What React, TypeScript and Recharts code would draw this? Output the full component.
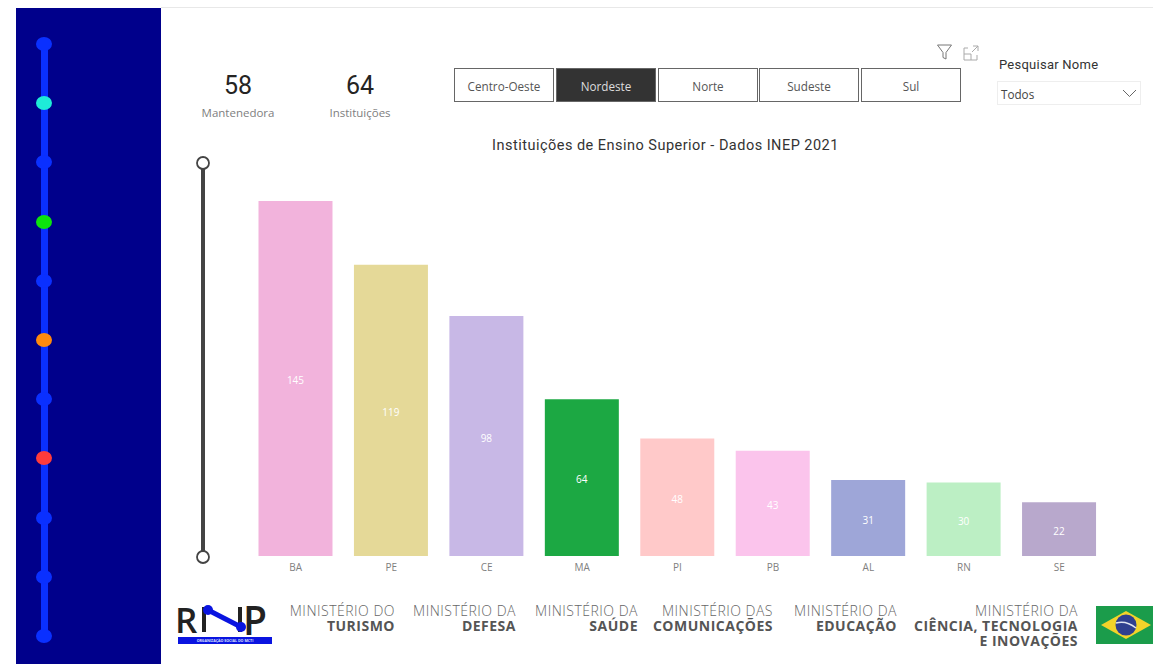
import { BarChart, Bar, XAxis, YAxis, Cell, LabelList } from 'recharts';

const states = ['BA', 'PE', 'CE', 'MA', 'PI', 'PB', 'AL', 'RN', 'SE'];
const counts = [145, 119, 98, 64, 48, 43, 31, 30, 22];
const barColors = ['#F2B3DC', '#E5D998', '#C8B8E6', '#1CA843', '#FFC9C9', '#FBC4EC', '#9EA6D8', '#BCEFC4', '#B8A8CC'];
const regions = ['Centro-Oeste', 'Nordeste', 'Norte', 'Sudeste', 'Sul'];
const regionLefts = [454, 556, 658, 759, 861];
const navDots = ['#0A30FF', '#1EEBD8', '#0A30FF', '#0CE40C', '#0A30FF', '#FF8A0C', '#0A30FF', '#FF3B3B', '#0A30FF', '#0A30FF', '#0A30FF'];
const ministries = [
  { right: 395, top: 'MINISTÉRIO DO', bold: ['TURISMO'] },
  { right: 516, top: 'MINISTÉRIO DA', bold: ['DEFESA'] },
  { right: 638, top: 'MINISTÉRIO DA', bold: ['SAÚDE'] },
  { right: 773, top: 'MINISTÉRIO DAS', bold: ['COMUNICAÇÕES'] },
  { right: 897, top: 'MINISTÉRIO DA', bold: ['EDUCAÇÃO'] },
  { right: 1078, top: 'MINISTÉRIO DA', bold: ['CIÊNCIA, TECNOLOGIA', 'E INOVAÇÕES'] },
];

const chartData = states.map((state, i) => ({ state, count: counts[i] }));

const din = 'Roboto, sans-serif';
const sans = '"Open Sans", sans-serif';

function Txt({ x, y, size, color, font = sans, weight = 400, anchor = 'middle', spacing = 0, children }: any) {
  const tx = anchor === 'middle' ? 'translate(-50%,-50%)' : anchor === 'end' ? 'translate(-100%,-50%)' : 'translateY(-50%)';
  return (
    <div
      style={{
        position: 'absolute',
        left: x,
        top: y,
        transform: tx,
        fontSize: size,
        color,
        fontFamily: font,
        fontWeight: weight,
        letterSpacing: spacing,
        whiteSpace: 'nowrap',
        lineHeight: 1,
      }}
    >
      {children}
    </div>
  );
}

function Sidebar() {
  return (
    <div style={{ position: 'absolute', left: 16, top: 8, width: 145, height: 656, background: '#00008B' }}>
      <div style={{ position: 'absolute', left: 24.5, top: 36, width: 7, height: 592, background: '#0A30FF' }} />
      {navDots.map((c, i) => (
        <div
          key={i}
          style={{
            position: 'absolute',
            left: 20,
            top: 36 + i * 59.2 - 7,
            width: 16,
            height: 14,
            borderRadius: '50%',
            background: c,
          }}
        />
      ))}
    </div>
  );
}

function Icons() {
  return (
    <svg style={{ position: 'absolute', left: 930, top: 40 }} width={55} height={22}>
      <path d="M7.5 5 H21.5 L16 12.5 V19 L13 17.5 V12.5 Z" fill="none" stroke="#777" strokeWidth={1} />
      <path d="M34 8 H38 M34 8 V20 H47 V15 M34 14 H41 V20 M43 6 H48 V11 M48 6 L42 12" fill="none" stroke="#aaa" strokeWidth={1} />
    </svg>
  );
}

function RnpLogo() {
  return (
    <div>
      <Txt x={175} y={619} size={35} color="#222" weight={600} anchor="start">R</Txt>
      <Txt x={243} y={619} size={39} color="#222" weight={600} anchor="start">P</Txt>
      <svg style={{ position: 'absolute', left: 195, top: 600 }} width={55} height={40}>
        <rect x={7} y={7} width={4} height={25} fill="#222" />
        <rect x={43} y={7} width={4} height={25} fill="#222" />
        <path d="M13 10 L46 27" stroke="#0A14E0" strokeWidth={5} />
        <circle cx={13} cy={10} r={5} fill="#0A14E0" />
        <circle cx={46} cy={27} r={5} fill="#0A14E0" />
      </svg>
      <div style={{ position: 'absolute', left: 178, top: 637, width: 94, height: 7, background: '#0A14E0' }} />
      <Txt x={225} y={640.5} size={3.6} color="#dfe3ff" weight={700}>ORGANIZAÇÃO SOCIAL DO MCTI</Txt>
    </div>
  );
}

function Flag() {
  return (
    <svg style={{ position: 'absolute', left: 1096, top: 606 }} width={57} height={38}>
      <rect width={57} height={38} fill="#1B9C4B" />
      <path d="M5 19 L30 5 L55 19 L30 33 Z" fill="#F2D32A" />
      <circle cx={30} cy={19} r={10.5} fill="#2F3F8F" />
      <path d="M20 17 Q30 14 40 22" stroke="#dfe3f0" strokeWidth={1.5} fill="none" />
    </svg>
  );
}

export default function App() {
  return (
    <div style={{ position: 'absolute', left: 0, top: 0, width: 1153, height: 664, background: '#fff', overflow: 'hidden' }}>
      <div style={{ position: 'absolute', left: 161, top: 7, width: 992, height: 1, background: '#e8e8e8' }} />
      <Sidebar />

      <Txt x={238} y={85} size={25} color="#252423" font={din}>58</Txt>
      <Txt x={238} y={113} size={11.5} color="#808080">Mantenedora</Txt>
      <Txt x={360} y={85} size={25} color="#252423" font={din}>64</Txt>
      <Txt x={360} y={113} size={11.5} color="#808080">Instituições</Txt>

      {regions.map((r, i) => (
        <div
          key={r}
          style={{
            position: 'absolute',
            left: regionLefts[i],
            top: 68,
            width: 100,
            height: 34,
            boxSizing: 'border-box',
            border: '1px solid #666',
            background: r === 'Nordeste' ? '#333' : '#fff',
            color: r === 'Nordeste' ? '#ddd' : '#555',
            fontFamily: sans,
            fontSize: 11.7,
            lineHeight: '34px',
            textAlign: 'center',
          }}
        >
          {r}
        </div>
      ))}

      <Icons />
      <Txt x={999} y={64} size={13} color="#333" font={din} anchor="start" spacing={0.25}>Pesquisar Nome</Txt>
      <div style={{ position: 'absolute', left: 997, top: 81, width: 144, height: 24, boxSizing: 'border-box', border: '1px solid #eee' }} />
      <Txt x={1001} y={94.5} size={11.7} color="#444" anchor="start">Todos</Txt>
      <svg style={{ position: 'absolute', left: 1122, top: 88 }} width={16} height={12}>
        <path d="M1 2 L7.5 8.5 L14 2" fill="none" stroke="#666" strokeWidth={1} />
      </svg>

      <Txt x={665.5} y={146} size={14.5} color="#333" font={din} spacing={0.48}>Instituições de Ensino Superior - Dados INEP 2021</Txt>

      <svg style={{ position: 'absolute', left: 190, top: 150 }} width={26} height={420}>
        <line x1={13} y1={19} x2={13} y2={401} stroke="#444" strokeWidth={4} />
        <circle cx={13} cy={13} r={6} fill="#fff" stroke="#444" strokeWidth={1.8} />
        <circle cx={13} cy={407} r={6} fill="#fff" stroke="#444" strokeWidth={1.8} />
      </svg>

      <div style={{ position: 'absolute', left: 247.8, top: 201 }}>
        <BarChart width={859} height={385} data={chartData} margin={{ top: 0, right: 0, bottom: 0, left: 0 }} barCategoryGap="11%">
          <XAxis
            dataKey="state"
            axisLine={false}
            tickLine={false}
            height={30}
            interval={0}
            tick={{ fontSize: 10, fill: '#808080', fontFamily: sans }}
            tickMargin={2}
          />
          <YAxis hide domain={[0, 145]} />
          <Bar dataKey="count" isAnimationActive={false}>
            {chartData.map((d, i) => (
              <Cell key={d.state} fill={barColors[i]} />
            ))}
            <LabelList dataKey="count" position="center" fill="#fff" fontSize={10} fontFamily={sans} dy={2} />
          </Bar>
        </BarChart>
      </div>

      <RnpLogo />
      {ministries.map((m) => (
        <div key={m.right}>
          <Txt x={m.right} y={610.5} size={14} color="#666" anchor="end" weight={300} spacing={0.5}>{m.top}</Txt>
          {m.bold.map((b, i) => (
            <Txt key={b} x={m.right} y={625.5 + i * 15} size={14} color="#555" anchor="end" weight={700} spacing={0.5}>{b}</Txt>
          ))}
        </div>
      ))}
      <Flag />
    </div>
  );
}
